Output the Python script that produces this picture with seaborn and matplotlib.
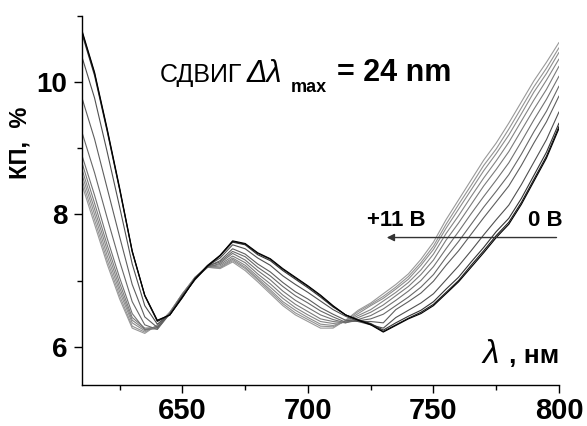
import matplotlib
matplotlib.use("Agg")
import matplotlib.pyplot as plt
import seaborn as sns
import pandas as pd

# ---- data ----
wavelength = [610, 615, 620, 625, 630, 635, 640, 645, 650, 655, 660, 665, 670,
              675, 680, 685, 690, 695, 700, 705, 710, 715, 720, 725, 730, 735,
              740, 745, 750, 755, 760, 765, 770, 775, 780, 785, 790, 795, 800]

kp_0V = [10.78, 10.15, 9.30, 8.40, 7.45, 6.78, 6.40, 6.48, 6.75, 7.02, 7.22, 7.38, 7.60,
         7.56, 7.42, 7.33, 7.18, 7.05, 6.92, 6.78, 6.62, 6.48, 6.40, 6.33, 6.22, 6.32,
         6.42, 6.50, 6.62, 6.80, 6.98, 7.20, 7.42, 7.65, 7.85, 8.15, 8.50, 8.85, 9.30]
kp_1V = [10.76, 10.13, 9.28, 8.38, 7.44, 6.77, 6.39, 6.48, 6.74, 7.03, 7.23, 7.38, 7.59,
         7.55, 7.41, 7.32, 7.17, 7.04, 6.91, 6.77, 6.61, 6.48, 6.40, 6.34, 6.23, 6.33,
         6.43, 6.52, 6.64, 6.82, 7.00, 7.23, 7.45, 7.68, 7.88, 8.18, 8.53, 8.88, 9.33]
kp_2V = [10.73, 10.10, 9.26, 8.37, 7.43, 6.77, 6.38, 6.48, 6.76, 7.01, 7.21, 7.37, 7.58,
         7.54, 7.39, 7.30, 7.15, 7.02, 6.89, 6.75, 6.60, 6.48, 6.41, 6.35, 6.25, 6.36,
         6.46, 6.55, 6.68, 6.87, 7.05, 7.28, 7.50, 7.74, 7.94, 8.24, 8.59, 8.94, 9.38]
kp_3V = [10.38, 9.76, 8.95, 8.11, 7.25, 6.62, 6.34, 6.49, 6.75, 7.03, 7.22, 7.34, 7.54,
         7.48, 7.34, 7.23, 7.07, 6.94, 6.82, 6.69, 6.56, 6.46, 6.38, 6.33, 6.28, 6.44,
         6.55, 6.66, 6.80, 7.01, 7.22, 7.45, 7.69, 7.92, 8.14, 8.45, 8.79, 9.13, 9.55]
kp_4V = [9.76, 9.14, 8.40, 7.66, 6.94, 6.45, 6.29, 6.50, 6.78, 7.02, 7.21, 7.30, 7.48,
         7.40, 7.25, 7.13, 6.97, 6.83, 6.72, 6.59, 6.49, 6.40, 6.38, 6.38, 6.36, 6.56,
         6.68, 6.81, 6.99, 7.23, 7.45, 7.70, 7.95, 8.19, 8.43, 8.74, 9.08, 9.40, 9.79]
kp_5V = [9.24, 8.63, 7.95, 7.29, 6.68, 6.33, 6.26, 6.50, 6.76, 7.04, 7.22, 7.28, 7.44,
         7.36, 7.20, 7.07, 6.91, 6.77, 6.66, 6.54, 6.45, 6.37, 6.39, 6.42, 6.49, 6.62,
         6.75, 6.90, 7.09, 7.35, 7.59, 7.85, 8.11, 8.35, 8.60, 8.91, 9.25, 9.56, 9.94]
kp_6V = [8.89, 8.29, 7.64, 7.04, 6.50, 6.26, 6.27, 6.50, 6.79, 7.03, 7.20, 7.26, 7.41,
         7.31, 7.15, 7.01, 6.84, 6.70, 6.59, 6.48, 6.41, 6.36, 6.41, 6.47, 6.57, 6.70,
         6.84, 7.00, 7.21, 7.48, 7.74, 8.01, 8.27, 8.52, 8.78, 9.10, 9.43, 9.74, 10.09]
kp_7V = [8.78, 8.17, 7.54, 6.96, 6.44, 6.28, 6.29, 6.51, 6.78, 7.04, 7.21, 7.24, 7.37,
         7.27, 7.10, 6.95, 6.78, 6.64, 6.53, 6.42, 6.38, 6.36, 6.44, 6.52, 6.63, 6.77,
         6.91, 7.09, 7.31, 7.61, 7.87, 8.15, 8.43, 8.68, 8.95, 9.27, 9.59, 9.89, 10.24]
kp_8V = [8.68, 8.08, 7.46, 6.89, 6.40, 6.26, 6.30, 6.51, 6.80, 7.03, 7.20, 7.22, 7.34,
         7.23, 7.06, 6.90, 6.73, 6.59, 6.48, 6.38, 6.35, 6.37, 6.47, 6.56, 6.69, 6.82,
         6.97, 7.16, 7.40, 7.71, 7.98, 8.27, 8.55, 8.81, 9.09, 9.41, 9.73, 10.03, 10.35]
kp_9V = [8.60, 8.00, 7.38, 6.83, 6.36, 6.24, 6.31, 6.52, 6.79, 7.05, 7.21, 7.20, 7.32,
         7.20, 7.03, 6.86, 6.68, 6.55, 6.44, 6.34, 6.32, 6.38, 6.50, 6.62, 6.73, 6.87,
         7.02, 7.23, 7.47, 7.79, 8.08, 8.37, 8.66, 8.92, 9.20, 9.52, 9.85, 10.13, 10.45]
kp_10V = [8.52, 7.92, 7.31, 6.77, 6.31, 6.22, 6.32, 6.52, 6.80, 7.04, 7.20, 7.19, 7.30,
          7.18, 7.01, 6.83, 6.65, 6.51, 6.41, 6.31, 6.30, 6.39, 6.53, 6.64, 6.76, 6.90,
          7.06, 7.27, 7.52, 7.85, 8.15, 8.44, 8.74, 8.99, 9.29, 9.61, 9.93, 10.21, 10.52]
kp_11V = [8.45, 7.85, 7.25, 6.72, 6.28, 6.20, 6.33, 6.52, 6.80, 7.05, 7.20, 7.18, 7.28,
          7.15, 6.98, 6.80, 6.62, 6.48, 6.38, 6.28, 6.28, 6.40, 6.55, 6.66, 6.80, 6.94,
          7.10, 7.32, 7.58, 7.92, 8.22, 8.52, 8.82, 9.08, 9.38, 9.70, 10.02, 10.30, 10.60]

voltages = [0, 1, 2, 3, 4, 5, 6, 7, 8, 9, 10, 11]
series = [kp_0V, kp_1V, kp_2V, kp_3V, kp_4V, kp_5V, kp_6V, kp_7V, kp_8V, kp_9V, kp_10V, kp_11V]

line_colors = ['#000000', '#1c1c1c', '#333333', '#505050', '#5e5e5e', '#686868',
               '#727272', '#7b7b7b', '#848484', '#8c8c8c', '#939393', '#999999']

frames = []
for v, vals in zip(voltages, series):
    frames.append(pd.DataFrame({'wl': wavelength, 'kp': vals, 'volt': v}))
df = pd.concat(frames, ignore_index=True)

# ---- style ----
sns.set_theme(style="ticks")
plt.rcParams['font.family'] = ['Liberation Sans', 'DejaVu Sans']
plt.rcParams['text.color'] = 'black'
plt.rcParams['axes.labelcolor'] = 'black'
plt.rcParams['xtick.color'] = 'black'
plt.rcParams['ytick.color'] = 'black'

fig = plt.figure(figsize=(5.87, 4.26), dpi=100)
ax = fig.add_axes([82 / 587, 41 / 426, 477 / 587, 369 / 426])

palette = {v: c for v, c in zip(voltages, line_colors)}
sns.lineplot(data=df, x='wl', y='kp', hue='volt', palette=palette,
             hue_order=voltages[::-1], legend=False, linewidth=0.8,
             estimator=None, sort=True, ax=ax)

ax.set_xlim(610, 800)
ax.set_ylim(5.42, 11.0)
ax.set_xticks([650, 700, 750, 800])
ax.set_xticks([625, 675, 725, 775], minor=True)
ax.set_yticks([6, 8, 10])
ax.set_yticks([7, 9, 11], minor=True)

for s in ['top', 'right']:
    ax.spines[s].set_visible(False)
for s in ['left', 'bottom']:
    ax.spines[s].set_color('black')
    ax.spines[s].set_linewidth(1.0)

ax.tick_params(axis='both', which='major', direction='out', length=5.5, width=1.0,
               color='black', labelcolor='black')
ax.tick_params(axis='both', which='minor', direction='out', length=3.5, width=1.0,
               color='black')
ax.tick_params(axis='x', which='major', labelsize=21, pad=3)
ax.tick_params(axis='y', which='major', labelsize=20, pad=5)
for lab in ax.get_xticklabels() + ax.get_yticklabels():
    lab.set_fontweight('bold')

ax.set_xlabel('')
ax.set_ylabel('КП,  %', fontsize=17, fontweight='bold', color='black')
ax.yaxis.set_label_coords(-0.105, 0.655)

# ---- annotations ----
ax.text(641.1, 10.0, 'СДВИГ', fontsize=18, color='black', ha='left', va='baseline')
ax.text(675.5, 10.0, 'Δλ', fontsize=22, style='italic', color='black',
        ha='left', va='baseline')
ax.text(693.2, 9.85, 'max', fontsize=13, fontweight='bold', color='black',
        ha='left', va='baseline')
ax.text(711.6, 10.02, '= 24 nm', fontsize=22, fontweight='bold', color='black',
        ha='left', va='baseline')

ax.text(723.4, 7.82, '+11 В', fontsize=16, fontweight='bold', color='black',
        ha='left', va='baseline')
ax.text(787.5, 7.82, '0 В', fontsize=16, fontweight='bold', color='black',
        ha='left', va='baseline')
ax.annotate('', xy=(731.4, 7.65), xytext=(799.0, 7.65),
            arrowprops=dict(arrowstyle='-|>', color='#333333', lw=1.0,
                            mutation_scale=11, shrinkA=0, shrinkB=0))

ax.text(769.5, 5.76, 'λ', fontsize=24, style='italic', color='black',
        ha='left', va='baseline')
ax.text(780.0, 5.76, ', нм', fontsize=19, fontweight='bold', color='black',
        ha='left', va='baseline')

fig.savefig('out.png', dpi=100)
